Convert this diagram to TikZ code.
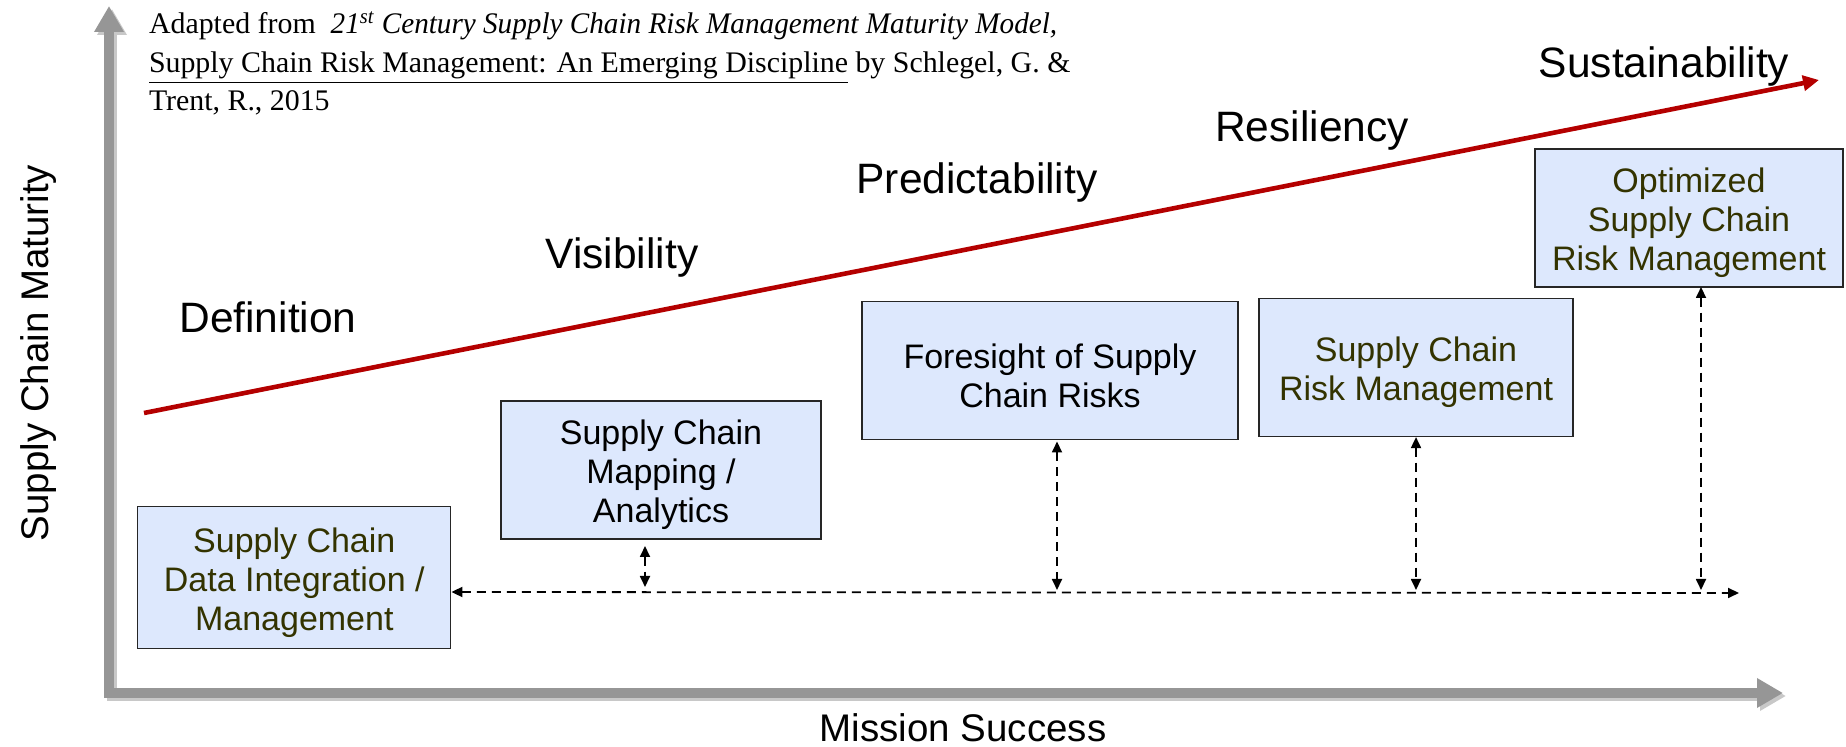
\documentclass[tikz,border=0pt]{standalone}
\usepackage{fontspec}
\setmainfont{Liberation Serif}
\newfontfamily\arialf{Liberation Sans}
\usetikzlibrary{arrows.meta,calc}
\definecolor{axisgray}{RGB}{150,150,150}
\definecolor{shadowgray}{RGB}{200,200,200}
\definecolor{darkred}{RGB}{180,0,0}
\definecolor{boxfill}{RGB}{221,232,253}
\definecolor{olive}{RGB}{51,51,0}
\newcommand{\topstrut}{\rule{0pt}{17.5pt}}
\tikzset{
  axisline/.style={line width=5pt, draw=axisgray, -{Triangle[length=13pt,width=14pt]}},
  axisshadow/.style={line width=5pt, draw=shadowgray, -{Triangle[length=13pt,width=14pt]}},
  trend/.style={line width=2.3pt, draw=darkred, -{Triangle[length=8pt,width=7.5pt]}},
  stage/.style={font=\arialf\fontsize{21.25}{25}\selectfont, anchor=base, inner sep=0pt},
  axislabel/.style={font=\arialf\fontsize{19.25}{23}\selectfont, inner sep=0pt},
  stepbox/.style={draw=black!85, line width=0.6pt, fill=boxfill, align=center, inner sep=0pt,
    font=\arialf\fontsize{17}{19.5}\selectfont},
  dlink/.style={line width=0.9pt, dash pattern=on 4.5pt off 3pt, {Triangle[length=5.5pt,width=5pt]}-{Triangle[length=5.5pt,width=5pt]}},
  caption/.style={font=\fontsize{14.94}{19.25}\selectfont, anchor=base west, inner sep=0pt}
}
\begin{document}
\begin{tikzpicture}[x=0.5pt,y=-0.5pt]
\useasboundingbox (0,0) rectangle (1846,747);
% axes
\coordinate (ybase) at (109,697);
\coordinate (ytip) at (109,6);
\coordinate (xbase) at (104,693);
\coordinate (xtip) at (1783,693);
\draw[axisshadow] ($(ybase)+(3,3)$) -- ($(ytip)+(3,3)$);
\draw[axisshadow] ($(xbase)+(3,3)$) -- ($(xtip)+(3,3)$);
\draw[axisline] (ybase) -- (ytip);
\draw[axisline] (xbase) -- (xtip);
\node[axislabel, rotate=90] (ylab) at (39,353) {Supply Chain Maturity};
\node[axislabel] (xlab) at (963,728) {Mission Success};
% caption
\node[caption] (cap1) at (148.6,34) {Adapted from\ \ \scalebox{0.977}[1]{\textit{21\textsuperscript{st} Century Supply Chain Risk Management Maturity Model,}}};
\node[caption] (cap2) at (148.6,73) {\underline{Supply Chain Risk Management: An Emerging Discipline} by Schlegel, G. \&};
\node[caption] (cap3) at (148.6,111) {Trent, R., 2015};
% trend arrow
\coordinate (rstart) at (144,413);
\coordinate (rend) at (1819,80);
\draw[trend] (rstart) -- (rend);
% stage labels
\node[stage] (def) at (268,333) {Definition};
\node[stage] (vis) at (622,269) {Visibility};
\node[stage] (pred) at (977,194) {Predictability};
\node[stage] (res) at (1312,142) {Resiliency};
\node[stage] (sus) at (1664,78) {Sustainability};
% boxes
\node[stepbox, text=olive, minimum width=156.5pt, minimum height=71.25pt] (b1) at (294.3,577.5) {\topstrut Supply Chain\\Data Integration /\\Management};
\node[stepbox, text=black, minimum width=160pt, minimum height=69pt] (b2) at (661,470) {\topstrut Supply Chain\\Mapping /\\Analytics};
\node[stepbox, text=black, minimum width=188pt, minimum height=69pt] (b3) at (1050,370.5) {\topstrut Foresight of Supply\\Chain Risks};
\node[stepbox, text=olive, minimum width=157pt, minimum height=69pt] (b4) at (1416,367.5) {\topstrut Supply Chain\\Risk Management};
\node[stepbox, text=olive, minimum width=154pt, minimum height=69pt] (b5) at (1689,218) {\topstrut Optimized\\Supply Chain\\Risk Management};
% dashed connectors
\coordinate (hend) at (1739,593);
\draw[dlink] (b1.east |- 0,592) -- (hend);
\coordinate (a2t) at (645,546);
\coordinate (a2b) at (645,587);
\draw[dlink] (a2t) -- (a2b);
\coordinate (a3t) at (1057,441.5);
\coordinate (a3b) at (1057,590);
\draw[dlink] (a3t) -- (a3b);
\coordinate (a4b) at (1416,590);
\draw[dlink] (b4.south) -- (a4b);
\coordinate (a5t) at (1701,287);
\coordinate (a5b) at (1701,590);
\draw[dlink] (a5t) -- (a5b);
\end{tikzpicture}
\end{document}
